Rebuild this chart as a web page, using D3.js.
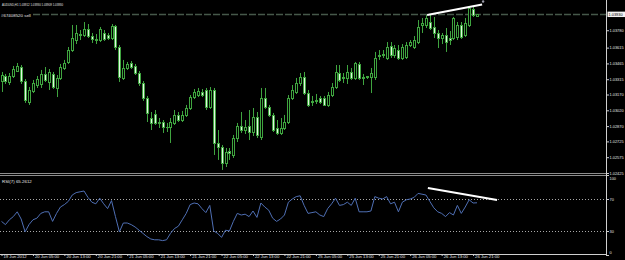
<!DOCTYPE html>
<html>
<head>
<meta charset="utf-8">
<script src="https://d3js.org/d3.v7.min.js"></script>
<style>
  html, body { margin: 0; padding: 0; background: #000; overflow: hidden; }
  svg { display: block; }
  text { font-family: "Liberation Sans", Arial, sans-serif; }
</style>
</head>
<body>
<div id="chart"></div>
<script>
// Header / labels
const symbolTitle = 'AUDUSD,H1  1.03912 1.03930 1.03909 1.03930';
const orderLabel = '#67408520 sell';
const orderPrice = 1.03930;
const bidPrice = 1.03930;
const rsiTitle = 'RSI(7) 65.2612';

// H1 bars, oldest first
const opens = [
  1.03298,1.03346,1.03289,1.03346,1.03393,1.03431,1.03298,1.03099,1.03203,1.03260,
  1.03270,1.03365,1.03289,1.03365,1.03232,1.03327,1.03422,1.03479,1.03592,1.03687,
  1.03744,1.03735,1.03792,1.03725,1.03697,1.03687,1.03754,1.03735,1.03706,1.03820,
  1.03621,1.03327,1.03422,1.03469,1.03441,1.03374,1.03279,1.03137,1.02947,1.02985,
  1.02900,1.02909,1.02862,1.02862,1.02900,1.02976,1.02928,1.02976,1.03042,1.03146,
  1.03165,1.03194,1.03213,1.03052,1.03213,1.02710,1.02672,1.02520,1.02634,1.02596,
  1.02757,1.02871,1.02833,1.02871,1.02814,1.02957,1.02767,1.03137,1.03052,1.02976,
  1.02852,1.02805,1.02852,1.02909,1.03137,1.03194,1.03279,1.03336,1.03184,1.03099,
  1.03109,1.03137,1.03137,1.03071,1.03165,1.03241,1.03374,1.03327,1.03327,1.03384,
  1.03327,1.03460,1.03327,1.03336,1.03336,1.03336,1.03536,1.03545,1.03517,1.03630,
  1.03545,1.03592,1.03517,1.03526,1.03640,1.03621,1.03668,1.03830,1.03830,1.03858,
  1.03811,1.03754,1.03706,1.03735,1.03706,1.03706,1.03716,1.03830,1.03735,1.03830,
  1.03982,1.03912
];
const highs = [
  1.03384,1.03365,1.03374,1.03441,1.03469,1.03450,1.03317,1.03241,1.03308,1.03346,
  1.03403,1.03431,1.03412,1.03384,1.03355,1.03460,1.03498,1.03621,1.03830,1.03830,
  1.03782,1.03858,1.03839,1.03754,1.03744,1.03811,1.03782,1.03754,1.03839,1.03830,
  1.03640,1.03498,1.03479,1.03488,1.03460,1.03393,1.03298,1.03156,1.03004,1.03023,
  1.02947,1.02928,1.02900,1.02947,1.03023,1.03004,1.03014,1.03071,1.03165,1.03222,
  1.03232,1.03222,1.03232,1.03241,1.03232,1.02833,1.02691,1.02662,1.02662,1.02786,
  1.02900,1.03004,1.02928,1.03023,1.03042,1.03004,1.03232,1.03232,1.03071,1.02995,
  1.02928,1.02947,1.02976,1.03165,1.03260,1.03327,1.03374,1.03384,1.03213,1.03156,
  1.03175,1.03156,1.03156,1.03194,1.03279,1.03450,1.03450,1.03374,1.03450,1.03422,
  1.03479,1.03479,1.03365,1.03346,1.03422,1.03574,1.03592,1.03592,1.03668,1.03668,
  1.03640,1.03640,1.03649,1.03668,1.03687,1.03725,1.03877,1.03896,1.03925,1.03925,
  1.03906,1.03782,1.03754,1.03801,1.03773,1.03906,1.03858,1.03858,1.03896,1.04001,
  1.04010,1.03930
];
const lows = [
  1.03194,1.03270,1.03260,1.03327,1.03384,1.03270,1.03090,1.03071,1.03184,1.03232,
  1.03232,1.03289,1.03213,1.03222,1.03146,1.03308,1.03403,1.03460,1.03574,1.03649,
  1.03687,1.03716,1.03706,1.03659,1.03649,1.03668,1.03678,1.03687,1.03687,1.03592,
  1.03289,1.03308,1.03403,1.03412,1.03355,1.03251,1.03109,1.02909,1.02833,1.02881,
  1.02852,1.02805,1.02814,1.02710,1.02881,1.02909,1.02909,1.02957,1.03023,1.03127,
  1.03146,1.03146,1.03023,1.03033,1.02596,1.02549,1.02454,1.02482,1.02549,1.02568,
  1.02719,1.02805,1.02795,1.02738,1.02776,1.02757,1.02738,1.03033,1.02957,1.02814,
  1.02786,1.02786,1.02833,1.02890,1.03118,1.03175,1.03251,1.03165,1.03052,1.03061,
  1.03080,1.03080,1.03061,1.03052,1.03146,1.03222,1.03289,1.03279,1.03270,1.03308,
  1.03308,1.03308,1.03260,1.03317,1.03184,1.03308,1.03498,1.03517,1.03498,1.03517,
  1.03517,1.03498,1.03498,1.03507,1.03621,1.03602,1.03649,1.03754,1.03801,1.03782,
  1.03706,1.03611,1.03649,1.03574,1.03640,1.03687,1.03687,1.03697,1.03716,1.03811,
  1.03906,1.03909
];
const closes = [
  1.03355,1.03298,1.03346,1.03412,1.03441,1.03298,1.03118,1.03213,1.03279,1.03317,
  1.03365,1.03308,1.03384,1.03241,1.03327,1.03431,1.03469,1.03592,1.03706,1.03754,
  1.03735,1.03792,1.03725,1.03697,1.03687,1.03792,1.03697,1.03706,1.03820,1.03621,
  1.03336,1.03422,1.03460,1.03431,1.03374,1.03279,1.03137,1.02995,1.02900,1.02900,
  1.02909,1.02862,1.02862,1.02909,1.02976,1.02928,1.02976,1.03042,1.03146,1.03194,
  1.03203,1.03165,1.03052,1.03213,1.02710,1.02672,1.02520,1.02624,1.02615,1.02757,
  1.02871,1.02833,1.02862,1.02814,1.02957,1.02786,1.03137,1.03052,1.02976,1.02833,
  1.02805,1.02852,1.02909,1.03137,1.03213,1.03279,1.03336,1.03184,1.03071,1.03109,
  1.03118,1.03099,1.03071,1.03165,1.03241,1.03384,1.03308,1.03336,1.03384,1.03327,
  1.03469,1.03327,1.03336,1.03346,1.03374,1.03517,1.03545,1.03555,1.03621,1.03545,
  1.03611,1.03517,1.03621,1.03640,1.03668,1.03687,1.03811,1.03849,1.03896,1.03801,
  1.03754,1.03706,1.03735,1.03668,1.03687,1.03896,1.03830,1.03716,1.03849,1.03991,
  1.03925,1.03930
];

// RSI(7) per bar
const rsiValues = [
  42,38,44,48,54,45,29,38,44,46,
  52,54,54,42,52,60,63,67,75,78,
  79,80,72,66,64,71,64,58,68,48,
  29,40,40,38,35,31,27,23,20,19,
  19,18,19,27,33,36,44,52,63,65,
  64,58,53,62,30,27,22,31,30,42,
  52,50,51,48,55,47,65,60,56,46,
  42,45,50,66,70,73,74,62,52,53,
  54,50,48,58,64,71,62,63,66,62,
  71,54,54,54,55,73,71,70,73,64,
  66,54,66,69,70,72,77,76,75,67,
  59,54,52,48,53,50,62,52,60,69,
  65,65.26
];

// axes
const priceTicks = [1.03780, 1.03615, 1.03465, 1.03315, 1.03170, 1.03020, 1.02870, 1.02725, 1.02575, 1.02425];
const rsiTicks = [100, 70, 30, 0];
const rsiLevels = [70, 30];
const timeTickBars = [0, 8, 16, 24, 32, 40, 48, 56, 64, 72, 80, 88, 96, 104, 112, 120];
const timeLabels = ['19 Jun 2012', '20 Jun 05:00', '20 Jun 13:00', '20 Jun 21:00', '21 Jun 05:00',
  '21 Jun 13:00', '21 Jun 21:00', '22 Jun 05:00', '22 Jun 13:00', '22 Jun 21:00', '25 Jun 05:00',
  '25 Jun 13:00', '25 Jun 21:00', '26 Jun 05:00', '26 Jun 13:00', '26 Jun 21:00'];

// hand-drawn trend lines (bar index, value)
const priceTrend = [[108.3, 1.03925], [122.3, 1.04024]];
const rsiTrend = [[108.5, 83.75], [126.1, 68.75]];

const W = 625, H = 260;
const plotRight = 606;
const green = '#3fa43f';
const bearFill = '#e2f6e2';
const textColor = '#e4e4e4';

const svg = d3.select('#chart').append('svg')
  .attr('width', W)
  .attr('height', H)
  .style('background', '#000');

const x = d3.scaleLinear().domain([0, 154]).range([1.5, 606.7]);
const yPrice = d3.scaleLinear().domain([1.02425, 1.04067]).range([173, 0]);
const yRsi = d3.scaleLinear().domain([0, 100]).range([255, 175]);

const bars = opens.map((o, i) => ({ i, o, h: highs[i], l: lows[i], c: closes[i] }));
const cx = d => Math.round(x(d.i)) + 0.5;

// order line
svg.append('line')
  .attr('x1', 33).attr('x2', plotRight)
  .attr('y1', yPrice(orderPrice)).attr('y2', yPrice(orderPrice))
  .attr('stroke', '#46584a')
  .attr('stroke-width', 1.5)
  .attr('stroke-dasharray', '7,2');

// wicks
svg.append('g').selectAll('line')
  .data(bars)
  .join('line')
  .attr('x1', cx).attr('x2', cx)
  .attr('y1', d => yPrice(d.h))
  .attr('y2', d => yPrice(d.l))
  .attr('stroke', green)
  .attr('stroke-width', 1);

// bodies
svg.append('g').selectAll('rect')
  .data(bars)
  .join('rect')
  .attr('x', d => cx(d) - 1)
  .attr('width', 2)
  .attr('y', d => Math.round(yPrice(Math.max(d.o, d.c))) + 0.5)
  .attr('height', d => Math.max(Math.round(Math.abs(yPrice(d.o) - yPrice(d.c))), 0.1))
  .attr('fill', d => d.c >= d.o ? '#000' : bearFill)
  .attr('stroke', green)
  .attr('stroke-width', 1);

// price trend line
svg.append('line')
  .attr('x1', x(priceTrend[0][0])).attr('y1', yPrice(priceTrend[0][1]))
  .attr('x2', x(priceTrend[1][0])).attr('y2', yPrice(priceTrend[1][1]))
  .attr('stroke', '#fff')
  .attr('stroke-width', 2);
svg.append('circle')
  .attr('cx', x(priceTrend[1][0]) + 1)
  .attr('cy', yPrice(priceTrend[1][1]) - 3)
  .attr('r', 1.2)
  .attr('fill', '#9a9aa8');

// header texts
svg.append('text')
  .attr('x', 2).attr('y', 5.5)
  .attr('font-size', 4.4)
  .attr('textLength', 61)
  .attr('lengthAdjust', 'spacingAndGlyphs')
  .attr('fill', textColor)
  .text(symbolTitle);

svg.append('text')
  .attr('x', 1).attr('y', 16.5)
  .attr('font-size', 4.4)
  .attr('fill', textColor)
  .text(orderLabel);

// panel separator
[173.5, 175.5].forEach(yy => {
  svg.append('line')
    .attr('x1', 0).attr('x2', plotRight)
    .attr('y1', yy).attr('y2', yy)
    .attr('stroke', '#8c8c8c');
});

// RSI levels
svg.append('g').selectAll('line')
  .data(rsiLevels)
  .join('line')
  .attr('x1', 0).attr('x2', plotRight)
  .attr('y1', d => Math.round(yRsi(d)) + 0.5)
  .attr('y2', d => Math.round(yRsi(d)) + 0.5)
  .attr('stroke', '#a8a8a8')
  .attr('stroke-dasharray', '1,2');

// RSI line
const rsiLine = d3.line()
  .x((d, i) => x(i))
  .y(d => yRsi(d));

svg.append('path')
  .datum(rsiValues)
  .attr('d', rsiLine)
  .attr('fill', 'none')
  .attr('stroke', '#4f6fb4')
  .attr('stroke-width', 1);

// RSI trend line
svg.append('line')
  .attr('x1', x(rsiTrend[0][0])).attr('y1', yRsi(rsiTrend[0][1]))
  .attr('x2', x(rsiTrend[1][0])).attr('y2', yRsi(rsiTrend[1][1]))
  .attr('stroke', '#fff')
  .attr('stroke-width', 2);

svg.append('text')
  .attr('x', 2).attr('y', 182.5)
  .attr('font-size', 4.4)
  .attr('fill', textColor)
  .text(rsiTitle);

// right axis line + bottom axis line
svg.append('line')
  .attr('x1', plotRight + 0.5).attr('x2', plotRight + 0.5)
  .attr('y1', 0).attr('y2', 255)
  .attr('stroke', '#cfcfcf');
svg.append('line')
  .attr('x1', 0).attr('x2', plotRight)
  .attr('y1', 254.5).attr('y2', 254.5)
  .attr('stroke', '#cfcfcf');

// price axis
const priceAxis = svg.append('g')
  .attr('transform', `translate(${plotRight},0)`)
  .call(d3.axisRight(yPrice).tickValues(priceTicks).tickSize(3).tickFormat(d3.format('.5f')));
priceAxis.select('.domain').remove();
priceAxis.selectAll('line').attr('stroke', '#cfcfcf');
priceAxis.selectAll('text')
  .attr('x', 3.5)
  .attr('fill', textColor)
  .style('font-size', '3.9px')
  .style('font-family', '"Liberation Sans", Arial, sans-serif');

// current price marker
const bidY = yPrice(bidPrice);
svg.append('rect')
  .attr('x', plotRight + 1.5).attr('y', bidY - 2.8)
  .attr('width', W - plotRight).attr('height', 5.4)
  .attr('fill', '#f4f4f4');
svg.append('text')
  .attr('x', plotRight + 2.5).attr('y', bidY + 1.4)
  .attr('font-size', 3.9)
  .attr('fill', '#000')
  .text(d3.format('.5f')(bidPrice));

// RSI axis
const rsiAxis = svg.append('g')
  .attr('transform', `translate(${plotRight},0)`)
  .call(d3.axisRight(yRsi).tickValues(rsiTicks).tickSize(3));
rsiAxis.select('.domain').remove();
rsiAxis.selectAll('line').attr('stroke', '#cfcfcf');
rsiAxis.selectAll('text')
  .attr('x', 3.5)
  .attr('dy', d => d === 100 ? '1.2em' : (d === 0 ? '-0.4em' : '0.32em'))
  .attr('fill', textColor)
  .style('font-size', '3.9px')
  .style('font-family', '"Liberation Sans", Arial, sans-serif');

// time axis
const timeAxis = svg.append('g')
  .attr('transform', 'translate(0,254)')
  .call(d3.axisBottom(x).tickValues(timeTickBars).tickSize(2)
    .tickFormat((d, k) => timeLabels[k]));
timeAxis.select('.domain').remove();
timeAxis.selectAll('line').attr('stroke', '#cfcfcf');
timeAxis.selectAll('text')
  .attr('y', 1.2)
  .attr('x', 1.5)
  .attr('text-anchor', 'start')
  .attr('fill', textColor)
  .style('font-size', '4.2px')
  .style('font-family', '"Liberation Sans", Arial, sans-serif');
</script>
</body>
</html>
